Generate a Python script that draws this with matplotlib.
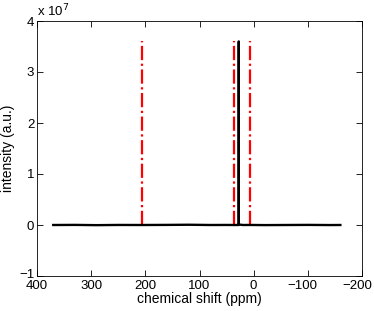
import numpy as np
import matplotlib
matplotlib.use("Agg")
import matplotlib.pyplot as plt
from matplotlib.transforms import ScaledTranslation

plt.rcParams["font.family"] = ["Liberation Sans", "DejaVu Sans"]
plt.rcParams["font.size"] = 9.5

# spectrum (ppm, intensity)
shift_ppm = [370, 330, 290, 250, 206, 160, 120, 80, 50, 36, 27.6, 27.5, 27.4, 20, 7, -20, -60, -100, -140, -160]
intensity = [0.0, 0.02e6, -0.03e6, 0.01e6, 0.0, 0.02e6, 0.05e6, 0.0, 0.01e6, 0.0, 0.0, 3.6e7, 0.1e6, 0.0, 0.01e6, -0.02e6, 0.0, 0.02e6, -0.01e6, 0.0]

# reference peak markers
marker_ppm = [206, 36, 7]
marker_top = 3.6e7

xticks = [400, 300, 200, 100, 0, -100, -200]
yticks = [-1, 0, 1, 2, 3, 4]

fig = plt.figure(figsize=(3.74, 3.11), dpi=100)
ax = fig.add_axes([37 / 374, 35 / 311, 325 / 374, 255 / 311])

for m in marker_ppm:
    ax.plot([m, m], [0, marker_top], color="red", linestyle="-.", linewidth=1.6)

ax.plot(shift_ppm, intensity, color="black", linewidth=1.7)

ax.set_xlim(400, -200)
ax.set_ylim(-1e7, 4e7)
ax.set_xticks(xticks)
ax.set_yticks([v * 1e7 for v in yticks])
ax.set_xticklabels([str(t).replace("-", "\u2212") for t in xticks])
ax.set_yticklabels([str(t).replace("-", "\u2212") for t in yticks])
ax.tick_params(direction="in", top=True, right=True, length=4, width=0.6, pad=2)
ax.tick_params(axis="x", pad=3)
for s in ax.spines.values():
    s.set_linewidth(0.6)

# negative labels sit a bit left of their ticks, like the original
for t, lab in zip(xticks, ax.get_xticklabels()):
    if t < 0:
        lab.set_transform(lab.get_transform() + ScaledTranslation(-5 / 100, 0, fig.dpi_scale_trans))
# lowest y label sits slightly up so it clears the 400
lab_low = ax.get_yticklabels()[0]
lab_low.set_transform(lab_low.get_transform() + ScaledTranslation(0, 2 / 100, fig.dpi_scale_trans))

ax.text(0.0, 1.005, "x 10$^7$", transform=ax.transAxes, ha="left", va="bottom")
ax.set_xlabel("chemical shift (ppm)", labelpad=0, fontsize=10)
ax.set_ylabel("intensity (a.u.)", labelpad=3, fontsize=10)

fig.savefig("out.png", dpi=100)
